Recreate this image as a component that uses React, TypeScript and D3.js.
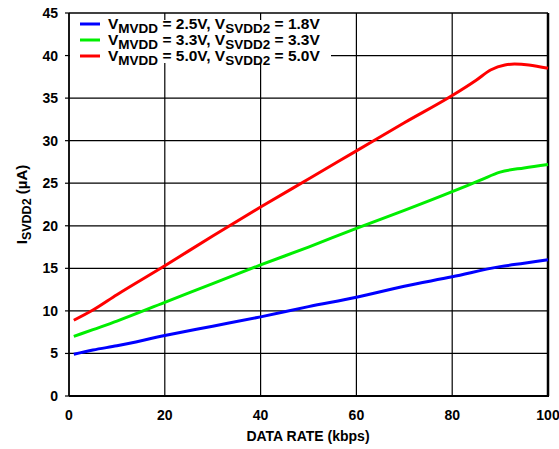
import React from "react";
import * as d3 from "d3";

const xTicks = [0, 20, 40, 60, 80, 100];
const yTicks = [0, 5, 10, 15, 20, 25, 30, 35, 40, 45];

const rateBlue = [1, 5, 10, 20, 30, 40, 50, 60, 70, 80, 90, 95, 100];
const blueVals = [4.9, 5.4, 5.9, 7.1, 8.2, 9.3, 10.5, 11.6, 12.9, 14.0, 15.2, 15.6, 16.0];

const rateGreen = [1, 5, 10, 20, 30, 40, 50, 60, 70, 80, 86, 90, 95, 100];
const greenVals = [7.0, 7.8, 8.8, 11.0, 13.2, 15.4, 17.5, 19.7, 21.8, 24.0, 25.4, 26.3, 26.8, 27.2];

const rateRed = [1, 5, 10, 20, 30, 40, 50, 60, 70, 80, 85, 88, 91, 93, 96, 100];
const redVals = [8.9, 10.1, 11.9, 15.3, 18.8, 22.2, 25.5, 28.8, 32.1, 35.3, 37.1, 38.3, 38.9, 39.0, 38.9, 38.5];

const series = [
  { x: rateBlue, y: blueVals, color: "#0000ff", mv: "2.5V", sv: "1.8V" },
  { x: rateGreen, y: greenVals, color: "#00ee00", mv: "3.3V", sv: "3.3V" },
  { x: rateRed, y: redVals, color: "#ff0000", mv: "5.0V", sv: "5.0V" },
];

export default function App() {
  const W = 559, H = 449;
  const L = 69, R = 548, T = 13, B = 396;
  const x = d3.scaleLinear().domain([0, 100]).range([L, R]);
  const y = d3.scaleLinear().domain([0, 45]).range([B, T]);
  const font = "Arial, 'Liberation Sans', sans-serif";
  const line = d3
    .line<[number, number]>()
    .x((d) => x(d[0]))
    .y((d) => y(d[1]))
    .curve(d3.curveMonotoneX);

  return (
    <svg
      width={W}
      height={H}
      style={{ position: "absolute", left: 0, top: 0, background: "#fff" }}
      fontFamily={font}
    >
      {/* grid */}
      {xTicks.slice(1, -1).map((t) => (
        <line key={"gx" + t} x1={x(t)} x2={x(t)} y1={T} y2={B} stroke="#000" strokeWidth={1.2} />
      ))}
      {yTicks.slice(1, -1).map((t) => (
        <line key={"gy" + t} x1={L} x2={R} y1={y(t)} y2={y(t)} stroke="#000" strokeWidth={1.2} />
      ))}
      {/* legend background */}
      <rect x={L + 1} y={20} width={261} height={43} fill="#fff" />
      {/* frame */}
      <line x1={L} x2={R} y1={T} y2={T} stroke="#000" strokeWidth={1.5} />
      <line x1={L} x2={L} y1={T} y2={B} stroke="#000" strokeWidth={1.8} />
      <line x1={L} x2={R + 1} y1={B} y2={B} stroke="#000" strokeWidth={2.2} />
      <line x1={R} x2={R} y1={T} y2={B} stroke="#000" strokeWidth={2.5} />
      {/* ticks */}
      {yTicks.map((t) => (
        <line key={"ty" + t} x1={L - 4} x2={L} y1={y(t)} y2={y(t)} stroke="#000" strokeWidth={1.2} />
      ))}
      {yTicks.map((t) => (
        <text key={"ly" + t} x={58} y={y(t) + 5} textAnchor="end" fontSize={14} fontWeight="bold">
          {t}
        </text>
      ))}
      {xTicks.map((t) => (
        <text key={"lx" + t} x={x(t)} y={420} textAnchor="middle" fontSize={14} fontWeight="bold">
          {t}
        </text>
      ))}
      {/* series */}
      {series.map((s, i) => (
        <path
          key={"s" + i}
          d={line(s.x.map((v, j) => [v, s.y[j]] as [number, number])) || ""}
          fill="none"
          stroke={s.color}
          strokeWidth={3}
          strokeLinejoin="round"
        />
      ))}
      {/* legend */}
      {series.map((s, i) => {
        const ly = 27 + i * 16;
        return (
          <g key={"lg" + i}>
            <line x1={80} x2={100} y1={ly - 3} y2={ly - 3} stroke={s.color} strokeWidth={3} />
            <text x={108} y={ly + 1.5} fontSize={15.5} fontWeight="bold">
              V
              <tspan dy={4} fontSize={13.5}>MVDD</tspan>
              <tspan dy={-4}> = {s.mv}, V</tspan>
              <tspan dy={4} fontSize={13.5}>SVDD2</tspan>
              <tspan dy={-4}> = {s.sv}</tspan>
            </text>
          </g>
        );
      })}
      {/* axis titles */}
      <text x={308} y={441} textAnchor="middle" fontSize={14} fontWeight="bold">
        DATA RATE (kbps)
      </text>
      <text
        transform={`translate(27,${(T + B) / 2}) rotate(-90)`}
        textAnchor="middle"
        fontSize={15}
        fontWeight="bold"
      >
        I<tspan dy={4} fontSize={12.5}>SVDD2</tspan>
        <tspan dy={-4}> (µA)</tspan>
      </text>
    </svg>
  );
}
